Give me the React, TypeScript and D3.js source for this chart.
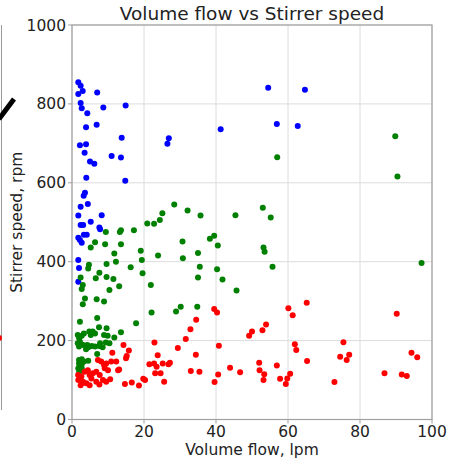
import React from "react";
import * as d3 from "d3";

const title = "Volume flow vs Stirrer speed";
const xLabel = "Volume flow, lpm";
const yLabel = "Stirrer speed, rpm";
const xTicks = [0, 20, 40, 60, 80, 100];
const yTicks = [0, 200, 400, 600, 800, 1000];

// [volume flow, stirrer speed]
const bluePoints: [number, number][] = [
  [1.75, 855], [2.4, 846], [2.97, 833], [1.75, 825], [7.0, 829], [2.4, 802], [2.7, 789],
  [4.25, 776], [8.7, 791], [14.9, 796], [3.9, 741], [6.85, 747], [2.2, 695], [3.9, 698],
  [13.8, 714], [26.5, 699], [26.9, 713], [3.5, 676], [5.0, 654], [6.2, 648], [11.0, 668],
  [13.6, 664], [3.97, 613], [14.8, 605], [3.6, 575], [3.25, 567], [4.4, 546], [2.4, 539],
  [1.75, 517], [8.25, 518], [5.2, 501], [2.4, 493], [3.1, 493], [7.6, 487], [7.8, 482],
  [1.75, 461], [2.2, 455], [2.7, 448], [3.3, 468], [4.1, 468], [1.75, 404], [1.95, 384],
  [1.75, 349], [54.5, 841], [64.7, 836], [41.3, 736], [56.9, 749], [62.7, 744],
];

const greenPoints: [number, number][] = [
  [57.0, 665], [89.8, 718], [90.4, 616], [97.1, 397],
  [28.4, 545], [32.1, 530], [35.7, 517], [45.4, 518], [53.0, 537], [55.2, 512], [30.7, 451],
  [38.3, 458], [39.5, 466], [40.5, 441], [35.0, 422], [30.8, 409], [53.2, 436], [53.5, 425],
  [35.5, 387], [40.3, 381], [55.7, 387], [35.0, 360], [41.8, 355], [45.7, 327], [28.9, 274],
  [30.2, 286], [34.8, 286],
  [25.1, 523], [24.4, 506], [20.9, 497], [22.8, 496], [9.4, 475], [13.3, 475], [13.6, 480],
  [17.2, 480], [6.4, 449], [9.2, 444], [13.6, 444], [5.2, 436], [19.1, 428], [11.75, 421],
  [23.9, 416], [12.2, 400], [19.4, 404], [4.7, 392], [4.5, 383], [9.6, 394], [16.3, 386],
  [19.6, 371], [7.6, 372], [2.4, 360], [6.6, 358], [9.6, 361], [11.5, 356], [3.0, 341],
  [2.7, 331], [13.1, 338], [10.4, 328], [21.9, 341], [3.6, 307], [6.85, 305], [8.9, 299],
  [3.0, 292], [22.1, 271], [2.2, 248], [7.0, 257], [17.8, 244],
  [1.6, 214], [2.0, 206], [2.7, 212], [3.3, 218], [4.8, 223], [5.75, 223], [6.4, 218],
  [5.2, 214], [7.5, 234], [9.6, 231], [8.9, 214], [11.75, 208], [13.6, 221], [2.2, 197],
  [1.6, 193], [3.1, 189], [1.95, 185], [4.25, 189], [4.5, 183], [3.9, 178], [5.5, 186],
  [6.4, 185], [7.6, 186], [8.5, 183], [7.8, 193], [9.4, 195], [10.4, 193], [9.9, 212],
  [7.0, 166], [1.95, 151], [2.7, 153], [4.5, 149], [1.95, 142], [2.7, 140], [3.3, 147],
  [2.2, 136], [1.75, 130], [2.7, 130], [2.0, 121],
];

const redPoints: [number, number][] = [
  [1.7, 113], [2.6, 109], [3.5, 121], [4.4, 125], [4.9, 113], [5.4, 104], [5.8, 117],
  [6.75, 121], [7.7, 113], [6.75, 96], [3.05, 96], [4.0, 92], [2.4, 87], [4.9, 87],
  [8.6, 100], [9.5, 96], [7.2, 151], [8.1, 147], [8.9, 138], [9.5, 142], [9.1, 130],
  [10.0, 125], [10.9, 147], [12.3, 147], [12.8, 125], [14.3, 189], [15.8, 175], [15.2, 161],
  [15.0, 155], [11.2, 169], [2.2, 104], [1.75, 100], [3.0, 93], [7.6, 89], [10.6, 102],
  [13.1, 127],
  [22.9, 195], [23.8, 163], [21.5, 140], [22.8, 142], [23.5, 134], [25.2, 142], [26.8, 140],
  [23.1, 117], [24.6, 117], [25.6, 96], [14.7, 90], [16.6, 94], [18.6, 86], [19.8, 103],
  [20.3, 100], [27.2, 144], [29.4, 181], [31.6, 204], [32.9, 229], [34.5, 253], [39.5, 280],
  [40.3, 271], [40.8, 187], [34.4, 164], [33.0, 123], [35.4, 121], [43.9, 131], [46.7, 120],
  [40.6, 114], [39.6, 95], [49.2, 212], [50.0, 223], [52.9, 226], [53.9, 241], [60.1, 282],
  [61.3, 264], [65.2, 296], [61.9, 191], [62.3, 176], [65.3, 148], [52.0, 144], [52.1, 125],
  [53.4, 115], [53.2, 100], [56.9, 137], [57.8, 103], [59.8, 104], [60.6, 116], [59.4, 90],
  [90.2, 268], [75.4, 196], [77.0, 164], [74.5, 159], [76.3, 151], [94.3, 169], [95.9, 158],
  [86.8, 117], [91.6, 114], [93.0, 110], [72.9, 95],
];

const series = [
  { name: "blue", color: "#0000ff", points: bluePoints },
  { name: "green", color: "#008000", points: greenPoints },
  { name: "red", color: "#ff0000", points: redPoints },
];

const W = 455;
const H = 458;
const left = 72;
const right = 432;
const top = 25;
const bottom = 419.5;

export default function App() {
  const x = d3.scaleLinear().domain([0, 100]).range([left, right]);
  const y = d3.scaleLinear().domain([0, 1000]).range([bottom, top]);
  const font = "DejaVu Sans, sans-serif";
  const tickSize = 15.5;

  return (
    <svg
      width={W}
      height={H}
      style={{ position: "absolute", left: 0, top: 0, background: "#fff" }}
      fontFamily={font}
    >
      <rect x={0} y={0} width={W} height={H} fill="#fff" />
      {/* remnants of neighbouring figure */}
      <line x1={1.5} x2={1.5} y1={25} y2={410} stroke="#999" strokeWidth={1} />
      <line x1={-1} y1={119} x2={14} y2={99} stroke="#000" strokeWidth={5} />
      <circle cx={-1} cy={338} r={3} fill="#ff0000" />

      {/* grid */}
      {xTicks.map((t) => (
        <line key={"gx" + t} x1={x(t)} x2={x(t)} y1={top} y2={bottom} stroke="#dcdcdc" strokeWidth={1} />
      ))}
      {yTicks.map((t) => (
        <line key={"gy" + t} x1={left} x2={right} y1={y(t)} y2={y(t)} stroke="#dcdcdc" strokeWidth={1} />
      ))}

      {/* points */}
      {series.map((s) =>
        s.points.map((p, i) => (
          <circle key={s.name + i} cx={x(p[0])} cy={y(p[1])} r={3} fill={s.color} />
        ))
      )}

      {/* frame */}
      <rect x={left} y={top} width={right - left} height={bottom - top} fill="none" stroke="#a0a0a0" strokeWidth={1.2} />

      {/* ticks */}
      {xTicks.map((t) => (
        <g key={"tx" + t}>
          <line x1={x(t)} x2={x(t)} y1={bottom} y2={bottom + 4} stroke="#a0a0a0" />
          <text x={x(t)} y={437} textAnchor="middle" fontSize={tickSize} fill="#222">
            {t}
          </text>
        </g>
      ))}
      {yTicks.map((t) => (
        <g key={"ty" + t}>
          <line x1={left - 4} x2={left} y1={y(t)} y2={y(t)} stroke="#a0a0a0" />
          <text x={left - 6} y={y(t) + 5.5} textAnchor="end" fontSize={tickSize} fill="#222">
            {t}
          </text>
        </g>
      ))}

      <text x={(left + right) / 2} y={455} textAnchor="middle" fontSize={tickSize} fill="#222">
        {xLabel}
      </text>
      <text
        transform={`translate(22, ${(top + bottom) / 2}) rotate(-90)`}
        textAnchor="middle"
        fontSize={tickSize}
        fill="#222"
      >
        {yLabel}
      </text>
      <text x={252} y={20} textAnchor="middle" fontSize={18.5} fill="#222">
        {title}
      </text>
    </svg>
  );
}
